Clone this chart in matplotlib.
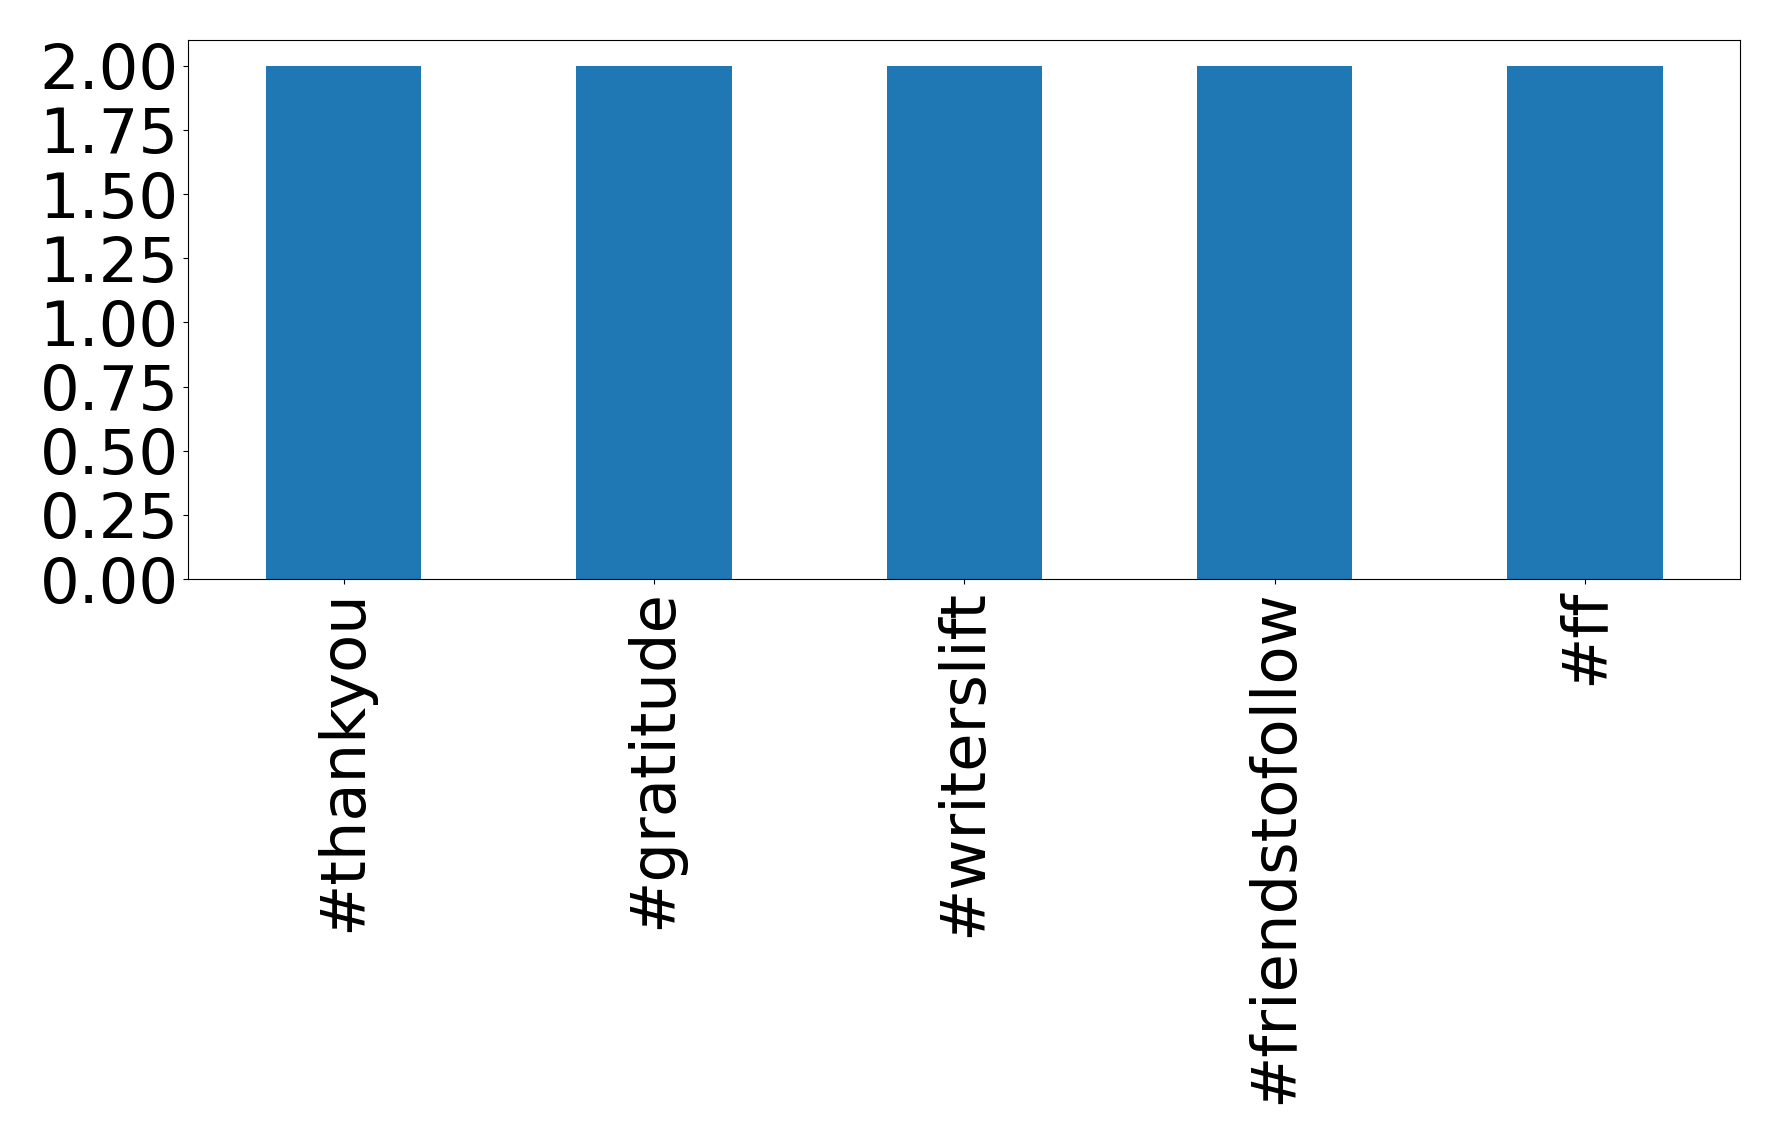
import matplotlib
matplotlib.use('Agg')
import matplotlib.pyplot as plt
import pandas as pd
from matplotlib.ticker import MultipleLocator, FormatStrFormatter

hashtags = ['#thankyou', '#gratitude', '#writerslift', '#friendstofollow', '#ff']
counts = [2.0, 2.0, 2.0, 2.0, 2.0]

series = pd.Series(counts, index=hashtags)

fig, ax = plt.subplots(figsize=(17.78, 11.43), dpi=100)
series.plot(kind='bar', ax=ax, color='#1f77b4', fontsize=45)
ax.tick_params(axis='both', labelsize=45)
ax.yaxis.set_major_locator(MultipleLocator(0.25))
ax.yaxis.set_major_formatter(FormatStrFormatter('%.2f'))
ax.set_ylim(0, 2.1)

fig.subplots_adjust(left=0.106, right=0.9787, top=0.965, bottom=0.4934)
fig.savefig('out.png', dpi=100)
